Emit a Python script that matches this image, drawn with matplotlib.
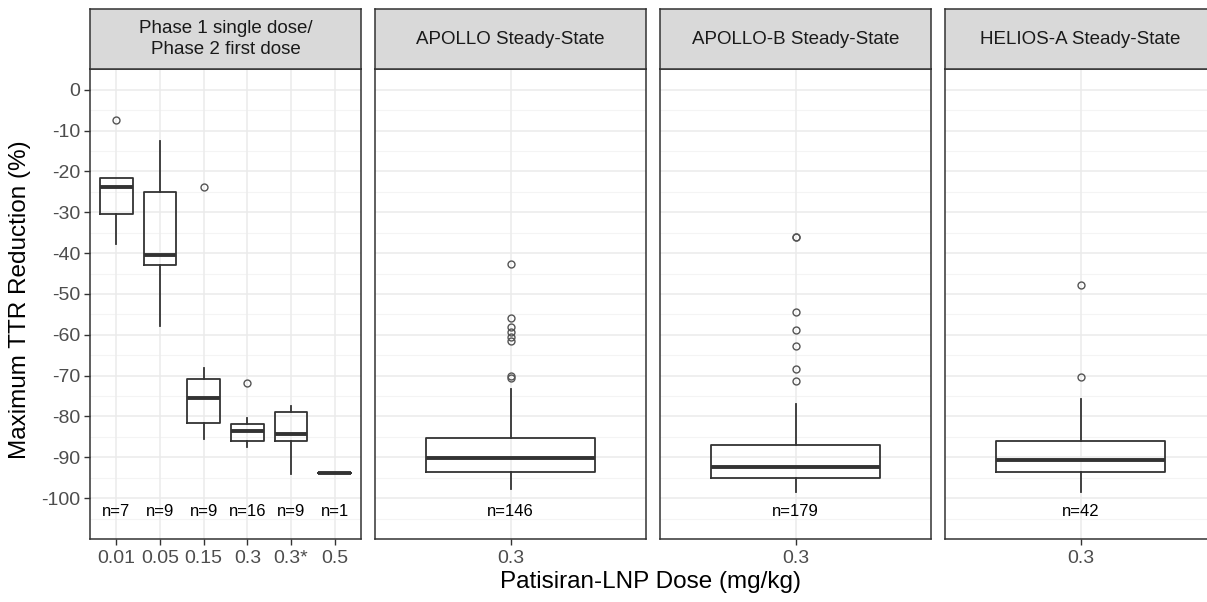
import matplotlib.pyplot as plt
import numpy as np

plt.rcParams['font.family'] = ['Liberation Sans', 'DejaVu Sans']

# phase 1 / phase 2 first dose panel
phase_doses = ['0.01', '0.05', '0.15', '0.3', '0.3*', '0.5']
phase_n = [7, 9, 9, 16, 9, 1]
phase_whishi = [-21.6, -12.5, -68.2, -80.4, -77.5, -93.8]
phase_q3 = [-21.6, -25.0, -70.9, -81.9, -78.8, -93.8]
phase_med = [-23.8, -40.4, -75.4, -83.6, -84.3, -93.8]
phase_q1 = [-30.4, -42.9, -81.6, -86.0, -86.0, -93.8]
phase_whislo = [-37.8, -57.8, -85.5, -87.5, -94.1, -93.8]
phase_fliers = [[-7.4], [], [-23.8], [-71.8], [], []]

# steady-state panels
ss_titles = ['APOLLO Steady-State', 'APOLLO-B Steady-State', 'HELIOS-A Steady-State']
ss_dose = '0.3'
ss_n = [146, 179, 42]
ss_whishi = [-73.3, -77.0, -75.7]
ss_q3 = [-85.3, -87.0, -86.0]
ss_med = [-90.2, -92.4, -90.7]
ss_q1 = [-93.6, -95.1, -93.6]
ss_whislo = [-97.8, -98.5, -98.5]
ss_fliers = [[-42.6, -55.9, -58.1, -59.3, -60.5, -61.5, -70.1, -70.6],
             [-36.0, -36.0, -54.4, -58.8, -62.7, -68.4, -71.3],
             [-47.8, -70.3]]

W, H = 1207, 602
fig = plt.figure(figsize=(W / 100, H / 100), dpi=100)

panel_left = [90, 375, 660, 945]
panel_w = 271
top_px, bot_px = 69, 539
strip_h = 60


def px_axes(x0, y0, w, h):
    return fig.add_axes([x0 / W, 1 - (y0 + h) / H, w / W, h / H])


def draw_panel(x0, labels, n, whishi, q3, med, q1, whislo, fliers, title, show_y):
    ax = px_axes(x0, top_px, panel_w, bot_px - top_px)
    stats = []
    for i in range(len(labels)):
        stats.append(dict(med=med[i], q1=q1[i], q3=q3[i], whislo=whislo[i],
                          whishi=whishi[i], fliers=fliers[i]))
    pos = np.arange(1, len(labels) + 1)
    ax.set_facecolor('white')
    # grid: major + minor y, major x
    for y in np.arange(0, -101, -10):
        ax.axhline(y, color='#EBEBEB', lw=1.1, zorder=0)
    for y in np.arange(5, -111, -10):
        ax.axhline(y, color='#F4F4F4', lw=0.8, zorder=0)
    for x in pos:
        ax.axvline(x, color='#EBEBEB', lw=1.1, zorder=0)
    ax.bxp(stats, positions=pos, widths=0.75, showfliers=True, patch_artist=False,
           boxprops=dict(color='#333333', lw=1.3),
           whiskerprops=dict(color='#333333', lw=1.3),
           capprops=dict(lw=0),
           medianprops=dict(color='#333333', lw=2.8),
           flierprops=dict(marker='o', markersize=5, markerfacecolor='none',
                           markeredgecolor='#555555', markeredgewidth=1.0))
    for x, k in zip(pos, n):
        ax.text(x, -103.2, 'n=%d' % k, ha='center', va='center', fontsize=12, color='black')
    ax.set_xlim(0.4, len(labels) + 0.6)
    ax.set_ylim(-110, 5.1)
    ax.set_xticks(pos)
    ax.set_xticklabels(labels, fontsize=14, color='#4D4D4D')
    ax.set_yticks(np.arange(0, -101, -10))
    if show_y:
        ax.set_yticklabels([str(v) for v in range(0, -101, -10)], fontsize=14, color='#4D4D4D')
        ax.tick_params(axis='y', length=4, width=1, color='#333333', pad=3)
    else:
        ax.tick_params(axis='y', length=0, labelleft=False)
    ax.tick_params(axis='x', length=4, width=1, color='#333333', pad=4)
    for s in ax.spines.values():
        s.set_color('#333333')
        s.set_linewidth(1.1)
    # strip on top
    sax = px_axes(x0, top_px - strip_h, panel_w, strip_h)
    sax.set_facecolor('#D9D9D9')
    sax.set_xticks([])
    sax.set_yticks([])
    for s in sax.spines.values():
        s.set_color('#333333')
        s.set_linewidth(1.1)
    sax.text(0.5, 0.5, title, ha='center', va='center', fontsize=13.5,
             color='#1A1A1A', linespacing=1.35, transform=sax.transAxes)


draw_panel(panel_left[0], phase_doses, phase_n, phase_whishi, phase_q3, phase_med,
           phase_q1, phase_whislo, phase_fliers, 'Phase 1 single dose/\nPhase 2 first dose', True)

for j in range(3):
    draw_panel(panel_left[j + 1], [ss_dose], [ss_n[j]], [ss_whishi[j]], [ss_q3[j]],
               [ss_med[j]], [ss_q1[j]], [ss_whislo[j]], [ss_fliers[j]], ss_titles[j], False)

fig.text(650 / W, 1 - 582 / H, 'Patisiran-LNP Dose (mg/kg)', ha='center', va='center',
         fontsize=17.5, color='black')
fig.text(20 / W, 1 - 300 / H, 'Maximum TTR Reduction (%)', ha='center', va='center',
         rotation=90, fontsize=17.5, color='black')

fig.savefig('out.png', dpi=100)
